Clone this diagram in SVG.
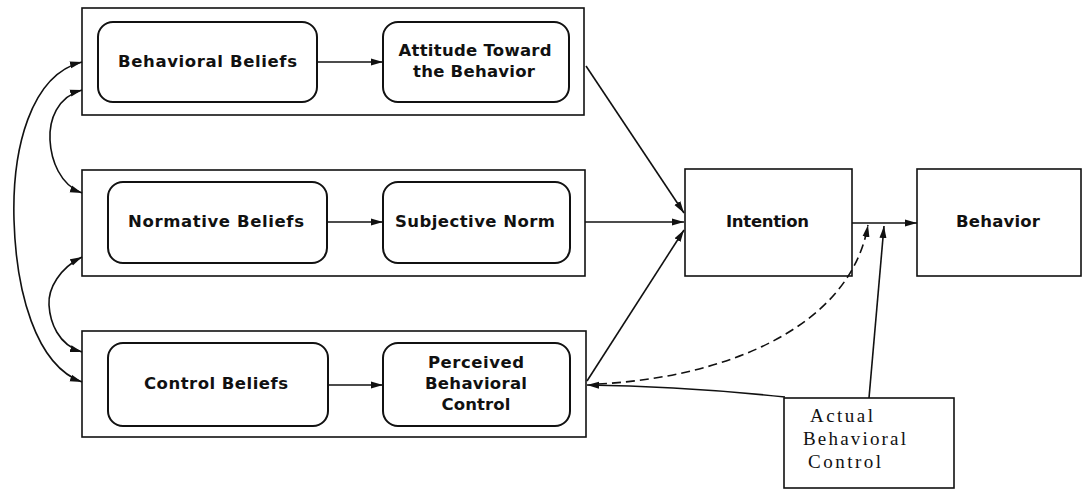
<svg xmlns="http://www.w3.org/2000/svg" width="1083" height="489" viewBox="0 0 1083 489">
  <style>
    .frame { fill: #fff; stroke: #111; stroke-width: 1.6; }
    .pill { fill: #fff; stroke: #111; stroke-width: 2; }
    .box { fill: #fff; stroke: #111; stroke-width: 1.6; }
    .lbl { font-family: "DejaVu Sans", "Liberation Sans", Arial, sans-serif; font-size: 16.5px; font-weight: bold; fill: #111; text-anchor: middle; }
    .serif { font-family: "Liberation Serif", "Times New Roman", serif; font-size: 19px; fill: #111; }
    .wire { fill: none; stroke: #111; stroke-width: 1.6; }
    .dash { stroke-dasharray: 9 5; }
  </style>
  <defs>
    <marker id="tip" viewBox="0 0 12 8" refX="12" refY="4" markerWidth="12" markerHeight="8" markerUnits="userSpaceOnUse" orient="auto-start-reverse">
      <path d="M0 0.5 L12 4 L0 7.5 Z" fill="#111"/>
    </marker>
  </defs>
  <rect width="1083" height="489" fill="#fff"/>

  <!-- attitude row -->
  <g id="row-attitude">
    <rect class="frame" x="82" y="8" width="502" height="107"/>
    <g id="behavioral-beliefs">
      <rect class="pill" x="98" y="22" width="219" height="80" rx="15"/>
      <text class="lbl" x="207.5" y="67" textLength="179">Behavioral Beliefs</text>
    </g>
    <g id="attitude">
      <rect class="pill" x="383" y="22" width="186" height="80" rx="15"/>
      <text class="lbl" x="475" y="56" textLength="153">Attitude Toward</text>
      <text class="lbl" x="474" y="77" textLength="122">the Behavior</text>
    </g>
  </g>

  <!-- norm row -->
  <g id="row-norm">
    <rect class="frame" x="82" y="170" width="503" height="106"/>
    <g id="normative-beliefs">
      <rect class="pill" x="108" y="182" width="219" height="81" rx="15"/>
      <text class="lbl" x="216" y="227" textLength="176">Normative Beliefs</text>
    </g>
    <g id="subjective-norm">
      <rect class="pill" x="383" y="182" width="187" height="81" rx="15"/>
      <text class="lbl" x="475" y="227" textLength="160">Subjective Norm</text>
    </g>
  </g>

  <!-- control row -->
  <g id="row-control">
    <rect class="frame" x="82" y="331" width="504" height="106"/>
    <g id="control-beliefs">
      <rect class="pill" x="108" y="343" width="220" height="83" rx="15"/>
      <text class="lbl" x="216" y="389" textLength="144">Control Beliefs</text>
    </g>
    <g id="perceived-control">
      <rect class="pill" x="383" y="343" width="187" height="83" rx="15"/>
      <text class="lbl" x="476" y="368" textLength="96">Perceived</text>
      <text class="lbl" x="476" y="389" textLength="102">Behavioral</text>
      <text class="lbl" x="476" y="410" textLength="69">Control</text>
    </g>
  </g>

  <g id="intention">
    <rect class="box" x="685" y="169" width="167" height="107"/>
    <text class="lbl" x="767.5" y="227" textLength="83">Intention</text>
  </g>

  <g id="behavior">
    <rect class="box" x="917" y="169" width="164" height="107"/>
    <text class="lbl" x="998" y="227" textLength="84">Behavior</text>
  </g>

  <g id="actual-control">
    <rect class="box" x="784" y="398" width="170" height="90"/>
    <text class="serif" x="810" y="422" textLength="63">Actual</text>
    <text class="serif" x="803" y="445" textLength="103">Behavioral</text>
    <text class="serif" x="808" y="468" textLength="73">Control</text>
  </g>

  <g id="connectors">
    <!-- belief to construct -->
    <line class="wire" x1="317" y1="62" x2="383" y2="62" marker-end="url(#tip)"/>
    <line class="wire" x1="327" y1="222" x2="383" y2="222" marker-end="url(#tip)"/>
    <line class="wire" x1="328" y1="385" x2="383" y2="385" marker-end="url(#tip)"/>

    <!-- constructs to intention -->
    <line class="wire" x1="586" y1="66" x2="684" y2="213" marker-end="url(#tip)"/>
    <line class="wire" x1="585" y1="222" x2="684" y2="222" marker-end="url(#tip)"/>
    <line class="wire" x1="587" y1="381" x2="684" y2="230" marker-end="url(#tip)"/>

    <!-- intention to behavior -->
    <line class="wire" x1="852" y1="223" x2="917" y2="223" marker-end="url(#tip)"/>

    <!-- perceived control moderating intention-behavior link -->
    <path class="wire dash" d="M598 384 C720 378 850 330 868 225" marker-end="url(#tip)"/>

    <!-- actual control links -->
    <path class="wire" d="M869 398 L884 226" marker-end="url(#tip)"/>
    <path class="wire" d="M785 397 Q680 386 587 385" marker-end="url(#tip)"/>

    <!-- correlations between belief rows -->
    <path class="wire" d="M82 62 C30 75 12 150 14 220 S35 365 82 382" marker-start="url(#tip)" marker-end="url(#tip)"/>
    <path class="wire" d="M82 90 C57 97 49 120 50 140 S60 185 82 193" marker-start="url(#tip)" marker-end="url(#tip)"/>
    <path class="wire" d="M82 257 C60 268 48 288 49 305 S58 345 82 352" marker-start="url(#tip)" marker-end="url(#tip)"/>
  </g>
</svg>
